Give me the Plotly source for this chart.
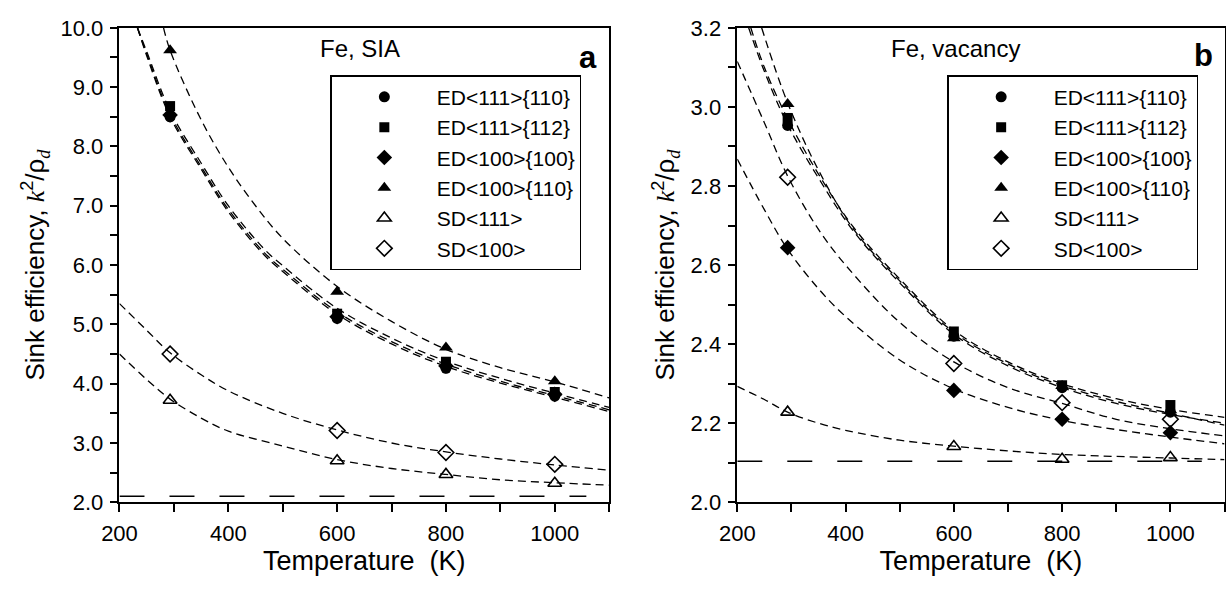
import plotly.graph_objects as go

# ---------------- data: panel a (Fe, SIA) ----------------
T_pts = [293, 600, 800, 1000]
a_ed111_110 = [8.50, 5.10, 4.26, 3.79]
a_ed111_112 = [8.68, 5.18, 4.37, 3.86]
a_ed100_100 = [8.53, 5.13, 4.30, 3.82]
a_ed100_110 = [9.62, 5.55, 4.61, 4.04]
a_sd111 = [3.72, 2.70, 2.47, 2.32]
a_sd100 = [4.50, 3.21, 2.84, 2.64]

# fitted curves (panel a)
a_fit_T_ed = [233, 250, 293, 350, 400, 466, 500, 600, 700, 800, 900, 1000, 1100]
a_fit_ed111_110 = [10.0, 9.53, 8.50, 7.62, 6.90, 6.17, 5.89, 5.17, 4.67, 4.29, 4.01, 3.77, 3.53]
a_fit_ed100_100 = [10.0, 9.56, 8.54, 7.66, 6.94, 6.21, 5.93, 5.21, 4.71, 4.33, 4.04, 3.80, 3.56]
a_fit_ed111_112 = [10.0, 9.60, 8.60, 7.72, 7.00, 6.27, 5.99, 5.27, 4.77, 4.38, 4.09, 3.84, 3.60]
a_fit_T_tri = [281, 293, 350, 400, 450, 500, 600, 700, 800, 900, 1000, 1100]
a_fit_ed100_110 = [10.0, 9.62, 8.45, 7.65, 7.00, 6.45, 5.64, 5.05, 4.58, 4.27, 4.03, 3.76]
a_fit_T_sd = [200, 250, 293, 350, 400, 500, 600, 700, 800, 900, 1000, 1100]
a_fit_sd100 = [5.35, 4.90, 4.52, 4.15, 3.88, 3.50, 3.22, 3.00, 2.85, 2.73, 2.63, 2.54]
a_fit_sd111 = [4.50, 4.07, 3.74, 3.42, 3.20, 2.95, 2.72, 2.57, 2.47, 2.38, 2.33, 2.29]
a_ref_T = [200, 1058]
a_ref = [2.1, 2.1]

# ---------------- data: panel b (Fe, vacancy) ----------------
b_ed111_110 = [2.953, 2.420, 2.290, 2.228]
b_ed111_112 = [2.972, 2.432, 2.296, 2.246]
b_ed100_100 = [2.644, 2.283, 2.210, 2.176]
b_ed100_110 = [3.007, 2.415, 2.294, 2.233]
b_sd111 = [2.228, 2.141, 2.109, 2.113]
b_sd100 = [2.822, 2.351, 2.252, 2.210]

b_fit_T_111_110 = [221, 250, 293, 350, 415, 500, 600, 700, 800, 900, 1000, 1100]
b_fit_ed111_110 = [3.20, 3.09, 2.955, 2.82, 2.685, 2.555, 2.425, 2.345, 2.290, 2.250, 2.222, 2.200]
b_fit_T_111_112 = [225, 250, 293, 350, 415, 500, 600, 700, 800, 900, 1000, 1100]
b_fit_ed111_112 = [3.20, 3.10, 2.970, 2.83, 2.695, 2.565, 2.435, 2.355, 2.300, 2.262, 2.235, 2.215]
b_fit_T_100_110 = [245, 293, 350, 415, 500, 600, 700, 800, 900, 1000, 1100]
b_fit_ed100_110 = [3.20, 3.010, 2.84, 2.69, 2.56, 2.43, 2.35, 2.295, 2.255, 2.225, 2.195]
b_fit_T = [200, 250, 293, 350, 400, 500, 600, 700, 800, 900, 1000, 1100]
b_fit_ed100_100 = [2.868, 2.74, 2.64, 2.54, 2.47, 2.36, 2.287, 2.240, 2.207, 2.184, 2.165, 2.148]
b_fit_sd100 = [3.115, 2.96, 2.825, 2.69, 2.60, 2.455, 2.355, 2.290, 2.250, 2.210, 2.186, 2.168]
b_fit_sd111 = [2.293, 2.26, 2.228, 2.200, 2.182, 2.157, 2.142, 2.130, 2.121, 2.116, 2.112, 2.108]
b_ref_T = [200, 1058]
b_ref = [2.104, 2.104]

# ---------------- ticks ----------------
x_tickvals = [200, 400, 600, 800, 1000]
x_ticktext = ["200", "400", "600", "800", "1000"]
x_minorvals = [300, 500, 700, 900, 1100]
ya_tickvals = [2.0, 3.0, 4.0, 5.0, 6.0, 7.0, 8.0, 9.0, 10.0]
ya_ticktext = ["2.0", "3.0", "4.0", "5.0", "6.0", "7.0", "8.0", "9.0", "10.0"]
ya_minorvals = [2.5, 3.5, 4.5, 5.5, 6.5, 7.5, 8.5, 9.5]
yb_tickvals = [2.0, 2.2, 2.4, 2.6, 2.8, 3.0, 3.2]
yb_ticktext = ["2.0", "2.2", "2.4", "2.6", "2.8", "3.0", "3.2"]
yb_minorvals = [2.1, 2.3, 2.5, 2.7, 2.9, 3.1]

names = ["ED&lt;111&gt;{110}", "ED&lt;111&gt;{112}", "ED&lt;100&gt;{100}",
         "ED&lt;100&gt;{110}", "SD&lt;111&gt;", "SD&lt;100&gt;"]
symbols = ["circle", "square", "diamond", "triangle-up", "triangle-up-open", "diamond-open"]
msizes = [11, 10, 12, 12, 12, 12]

FONT = "Liberation Sans, Arial, sans-serif"
fig = go.Figure()

DASH = "8px,5px"


def add_fit(x, y, xa, ya):
    fig.add_trace(go.Scatter(x=x, y=y, mode="lines", xaxis=xa, yaxis=ya,
                             line=dict(color="black", width=1.3, dash=DASH, shape="spline"),
                             showlegend=False, hoverinfo="skip"))


# panel a fits
add_fit(a_fit_T_ed, a_fit_ed111_110, "x", "y")
add_fit(a_fit_T_ed, a_fit_ed100_100, "x", "y")
add_fit(a_fit_T_ed, a_fit_ed111_112, "x", "y")
add_fit(a_fit_T_tri, a_fit_ed100_110, "x", "y")
add_fit(a_fit_T_sd, a_fit_sd100, "x", "y")
add_fit(a_fit_T_sd, a_fit_sd111, "x", "y")
fig.add_trace(go.Scatter(x=a_ref_T, y=a_ref, mode="lines", xaxis="x", yaxis="y",
                         line=dict(color="black", width=1.5, dash="25px,25px"),
                         showlegend=False, hoverinfo="skip"))
# panel b fits
add_fit(b_fit_T_111_110, b_fit_ed111_110, "x2", "y2")
add_fit(b_fit_T_111_112, b_fit_ed111_112, "x2", "y2")
add_fit(b_fit_T_100_110, b_fit_ed100_110, "x2", "y2")
add_fit(b_fit_T, b_fit_ed100_100, "x2", "y2")
add_fit(b_fit_T, b_fit_sd100, "x2", "y2")
add_fit(b_fit_T, b_fit_sd111, "x2", "y2")
fig.add_trace(go.Scatter(x=b_ref_T, y=b_ref, mode="lines", xaxis="x2", yaxis="y2",
                         line=dict(color="black", width=1.5, dash="25px,25px"),
                         showlegend=False, hoverinfo="skip"))

a_series = [a_ed111_110, a_ed111_112, a_ed100_100, a_ed100_110, a_sd111, a_sd100]
b_series = [b_ed111_110, b_ed111_112, b_ed100_100, b_ed100_110, b_sd111, b_sd100]
for i in range(6):
    mk = dict(symbol=symbols[i], size=msizes[i], color="black",
              line=dict(color="black", width=1.6 if "open" in symbols[i] else 0))
    fig.add_trace(go.Scatter(x=T_pts, y=a_series[i], mode="markers", name=names[i],
                             xaxis="x", yaxis="y", marker=mk, legend="legend", cliponaxis=False))
for i in range(6):
    mk = dict(symbol=symbols[i], size=msizes[i], color="black",
              line=dict(color="black", width=1.6 if "open" in symbols[i] else 0))
    fig.add_trace(go.Scatter(x=T_pts, y=b_series[i], mode="markers", name=names[i],
                             xaxis="x2", yaxis="y2", marker=mk, legend="legend2", cliponaxis=False))

W, H = 1226, 590
ydom = [1 - 512 / H, 1 - 16.5 / H]


def axis_common(minorvals):
    return dict(showgrid=False, zeroline=False, showline=True, linecolor="black", linewidth=1.5,
                mirror=True, ticks="outside", ticklen=8, tickwidth=1.5, tickcolor="black",
                tickfont=dict(family=FONT, size=22, color="black"), tickmode="array",
                minor=dict(tickmode="array", tickvals=minorvals, ticks="outside", ticklen=8,
                           tickwidth=1.5, tickcolor="black", showgrid=False))


ytitle = ("Sink efficiency, <span style='font-family:Liberation Serif'><i>k</i></span>"
          "<sup>2</sup>/ρ<sub><span style='font-family:Liberation Serif'><i>d</i></span></sub>")
xtitle = "Temperature\u00a0\u00a0(K)"

fig.update_layout(
    width=W, height=H, margin=dict(l=0, r=0, t=0, b=0),
    paper_bgcolor="white", plot_bgcolor="white",
    font=dict(family=FONT, color="black"),
    xaxis=dict(domain=[103 / W, 600 / W], range=[200, 1100], tickvals=x_tickvals, ticktext=x_ticktext,
               anchor="y", ticklabelstandoff=3,
               title=dict(text=xtitle, font=dict(size=27), standoff=2),
               **axis_common(x_minorvals)),
    yaxis=dict(domain=ydom, range=[2.0, 10.0], tickvals=ya_tickvals, ticktext=ya_ticktext, anchor="x",
               ticklabelstandoff=2,
               title=dict(text=ytitle, font=dict(size=26), standoff=8), **axis_common(ya_minorvals)),
    xaxis2=dict(domain=[730 / W, 1224.5 / W], range=[200, 1100], tickvals=x_tickvals, ticktext=x_ticktext,
                anchor="y2", ticklabelstandoff=3,
                title=dict(text=xtitle, font=dict(size=27), standoff=2),
                **axis_common(x_minorvals)),
    yaxis2=dict(domain=ydom, range=[2.0, 3.2], tickvals=yb_tickvals, ticktext=yb_ticktext, anchor="x2",
                ticklabelstandoff=2,
                title=dict(text=ytitle, font=dict(size=26), standoff=8), **axis_common(yb_minorvals)),
    legend=dict(x=317 / W, y=1 - 66 / H, xanchor="left", yanchor="top", bgcolor="white",
                bordercolor="black", borderwidth=1.5, font=dict(family=FONT, size=21, color="black"),
                itemwidth=95, tracegroupgap=0),
    legend2=dict(x=943 / W, y=1 - 66 / H, xanchor="left", yanchor="top", bgcolor="white",
                 bordercolor="black", borderwidth=1.5, font=dict(family=FONT, size=21, color="black"),
                 itemwidth=95, tracegroupgap=0),
    annotations=[
        dict(text="Fe, SIA", x=347 / W, y=1 - 38 / H, xref="paper", yref="paper", showarrow=False,
             font=dict(family=FONT, size=24), xanchor="center", yanchor="middle"),
        dict(text="<b>a</b>", x=578 / W, y=1 - 48 / H, xref="paper", yref="paper", showarrow=False,
             font=dict(family=FONT, size=31), xanchor="center", yanchor="middle"),
        dict(text="Fe, vacancy", x=951 / W, y=1 - 38 / H, xref="paper", yref="paper", showarrow=False,
             font=dict(family=FONT, size=24), xanchor="center", yanchor="middle"),
        dict(text="<b>b</b>", x=1203 / W, y=1 - 45 / H, xref="paper", yref="paper", showarrow=False,
             font=dict(family=FONT, size=31), xanchor="center", yanchor="middle"),
    ],
)

fig.write_html("out.html")
